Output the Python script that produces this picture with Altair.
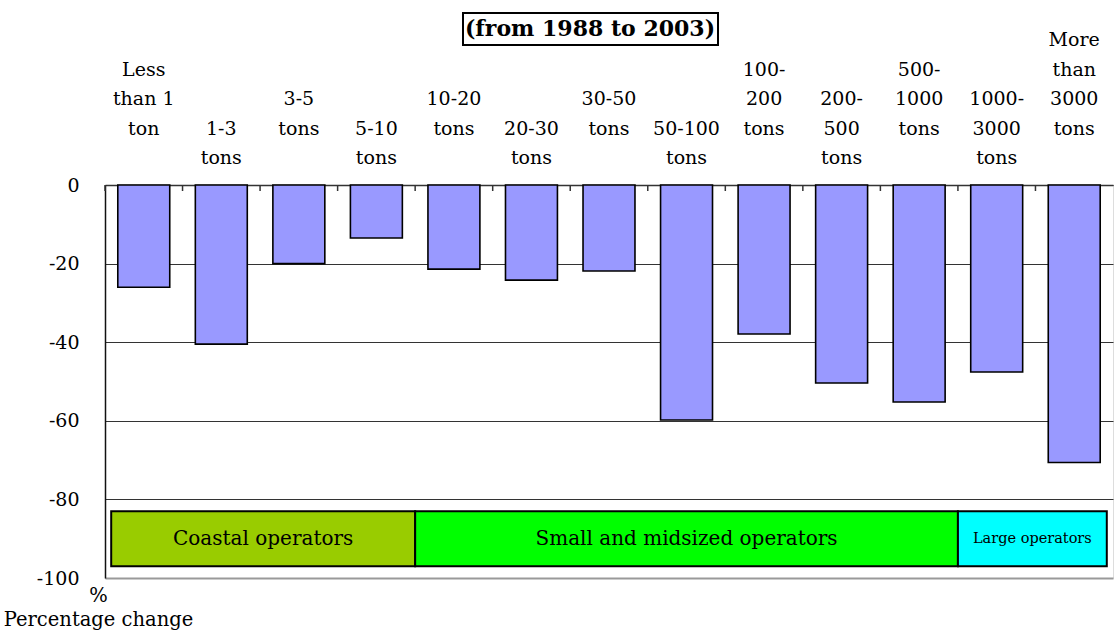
import altair as alt
import pandas as pd

# Vessel size classes (one list of text lines per class) and the change in number of operators
size_class_lines = [
    ["Less", "than 1", "ton"],
    ["1-3", "tons"],
    ["3-5", "tons"],
    ["5-10", "tons"],
    ["10-20", "tons"],
    ["20-30", "tons"],
    ["30-50", "tons"],
    ["50-100", "tons"],
    ["100-", "200", "tons"],
    ["200-", "500", "tons"],
    ["500-", "1000", "tons"],
    ["1000-", "3000", "tons"],
    ["More", "than", "3000", "tons"],
]
pct_change = [-26.0, -40.5, -20.0, -13.5, -21.4, -24.2, -21.9, -59.8, -37.9, -50.4, -55.2, -47.6, -70.6]

# Operator groups spanning the size classes
group_names = ["Coastal operators", "Small and midsized operators", "Large operators"]
group_first = [0, 4, 11]
group_last = [3, 10, 12]
group_colors = ["#99CC00", "#00FF00", "#00FFFF"]

title_text = "(from 1988 to 2003)"
y_ticks = [0, -20, -40, -60, -80, -100]

FONT = "DejaVu Serif"
BAR_BAND = 0.67
categories = [" ".join(lines) for lines in size_class_lines]
n_last = len(categories) - 1

bars_df = pd.DataFrame({"size_class": categories, "change": pct_change})

# Category labels above the plot: one row per text line, the last line of
# neighbouring classes alternating between the two lowest rows.
ROWS = 5
label_rows = []
for i, lines in enumerate(size_class_lines):
    bottom_row = ROWS - 1 - (1 if i % 2 == 0 else 0)
    first_row = bottom_row - (len(lines) - 1)
    for j, line in enumerate(lines):
        label_rows.append({"size_class": categories[i], "line": line, "row": first_row + j})
labels_df = pd.DataFrame(label_rows)

# one band per size class, no gaps; bars take a fraction of each band
x_scale = alt.Scale(domain=categories, paddingInner=0, paddingOuter=0)
y_scale = alt.Scale(domain=[-100, 0], nice=False, zero=False)
row_scale = alt.Scale(domain=[0, ROWS - 1], range=[-145, -27])

x_axis = alt.Axis(
    orient="top", title=None, labels=False, ticks=False, grid=False,
    domainColor="#333333", domainWidth=1.5,
)
y_axis = alt.Axis(
    values=y_ticks, ticks=False, labelPadding=26, labelFont=FONT, labelFontSize=19,
    labelColor="black", labelExpr="toString(datum.value)",
    domainColor="#111111", domainWidth=1.5,
    grid=True,
    gridColor={"condition": {"test": "datum.value == -100", "value": "#999999"}, "value": "#333333"},
    gridWidth={"condition": {"test": "datum.value == -100", "value": 2}, "value": 1},
    title=["%", "Percentage change"], titleAngle=0, titleAlign="center", titleBaseline="top",
    titleX=-7, titleY=401, titleFont=FONT, titleFontSize=19.5, titleFontWeight="normal",
    titleColor="black", titleLineHeight=24,
)

bars = alt.Chart(bars_df).mark_bar(
    fill="#9999FF", stroke="black", strokeWidth=1.6, width=alt.RelativeBandSize(BAR_BAND)
).encode(
    x=alt.X("size_class:N", scale=x_scale, axis=x_axis, sort=categories),
    y=alt.Y("change:Q", scale=y_scale, axis=y_axis),
)

ticks = alt.Chart(bars_df).mark_rule(color="#333333", strokeWidth=1.5).encode(
    x=alt.X("size_class:N", scale=x_scale, bandPosition=0, sort=categories),
    y=alt.value(0),
    y2=alt.value(6),
)

class_labels = alt.Chart(labels_df).mark_text(
    font=FONT, fontSize=19, color="black", baseline="middle", align="center"
).encode(
    x=alt.X("size_class:N", scale=x_scale, sort=categories),
    y=alt.Y("row:Q", scale=row_scale, axis=None),
    text="line:N",
)

BOX_TOP, BOX_BOTTOM = -83, -97
EDGE_INSET = 0.08


def group_layers(k):
    first, last = group_first[k], group_last[k]
    left_bp = EDGE_INSET if first == 0 else 0
    right_bp = 1 - EDGE_INSET if last == n_last else 1
    df = pd.DataFrame({
        "group": [group_names[k]],
        "start": [categories[first]],
        "end": [categories[last]],
        "top": [BOX_TOP],
        "bottom": [BOX_BOTTOM],
    })
    box = alt.Chart(df).mark_rect(
        fill=group_colors[k], stroke="black", strokeWidth=2
    ).encode(
        x=alt.X("start:N", scale=x_scale, bandPosition=left_bp, sort=categories),
        x2=alt.X2("end:N", bandPosition=right_bp),
        y=alt.Y("top:Q", scale=y_scale, axis=None),
        y2="bottom:Q",
    )
    # centre of the group as a category plus a band position
    m = (first + left_bp + last + right_bp) / 2
    idx = min(int(m), n_last)
    df = df.assign(mid=categories[idx], y=(BOX_TOP + BOX_BOTTOM) / 2)
    size = 14.5 if group_names[k] == "Large operators" else 20
    label = alt.Chart(df).mark_text(
        font=FONT, color="black", baseline="middle", fontSize=size
    ).encode(
        x=alt.X("mid:N", scale=x_scale, bandPosition=m - idx, sort=categories),
        y=alt.Y("y:Q", scale=y_scale, axis=None),
        text="group:N",
    )
    return [box, label]


group_marks = []
for k in range(len(group_names)):
    group_marks += group_layers(k)

title_df = pd.DataFrame({"title": [title_text]})
title_box = alt.Chart(title_df).mark_rect(fill="white", stroke="black", strokeWidth=2).encode(
    x=alt.value(358), x2=alt.value(613), y=alt.value(-172), y2=alt.value(-140),
)
title_label = alt.Chart(title_df).mark_text(
    font=FONT, fontSize=22, fontWeight="bold", color="black", baseline="middle"
).encode(x=alt.value(485), y=alt.value(-156), text="title:N")

chart = alt.layer(
    bars, ticks, *group_marks, class_labels, title_box, title_label
).resolve_scale(
    y="independent"
).properties(
    width=1008, height=393,
    padding={"left": 105, "top": 185, "right": 1, "bottom": 52},
    autosize=alt.AutoSizeParams(type="none"),
).configure_view(stroke=None).configure(font=FONT, background="white")

chart.save("out.html", embed_options={"renderer": "svg", "actions": False})
